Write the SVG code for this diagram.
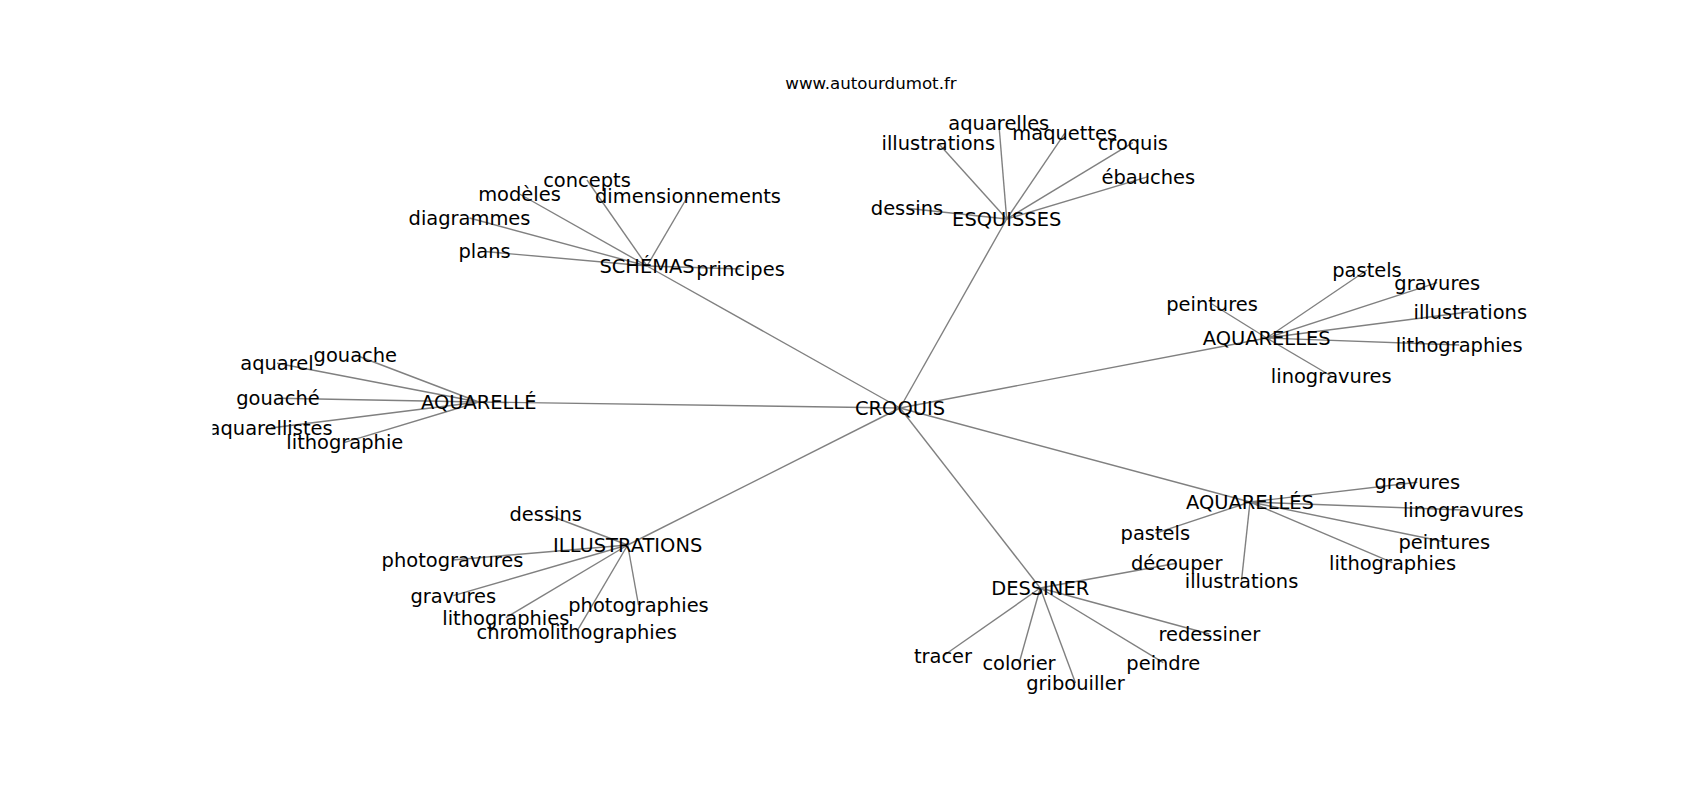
<svg xmlns="http://www.w3.org/2000/svg" width="1700" height="800" viewBox="0 0 1700 800">
<defs>
<style>
text{font-family:"DejaVu Sans",sans-serif;fill:#000;}
.l{font-size:19.44px;text-anchor:middle;}
.t{font-size:16.67px;text-anchor:middle;}
.e line{stroke:#808080;stroke-width:1.4;}
</style>
<clipPath id="ax"><rect x="212.5" y="96" width="1317.5" height="616"/></clipPath>
</defs>
<rect width="1700" height="800" fill="#fff"/>
<text class="t" x="871" y="88.5">www.autourdumot.fr</text>
<g clip-path="url(#ax)">
<g id="connectors" class="e">
<line x1="900" y1="408" x2="647" y2="266"/>
<line x1="900" y1="408" x2="1006.7" y2="219"/>
<line x1="900" y1="408" x2="1266.7" y2="338"/>
<line x1="900" y1="408" x2="478.7" y2="402"/>
<line x1="900" y1="408" x2="627.7" y2="545"/>
<line x1="900" y1="408" x2="1040.2" y2="588"/>
<line x1="900" y1="408" x2="1250" y2="502"/>
<line x1="647" y1="266" x2="484.6" y2="251.5"/>
<line x1="647" y1="266" x2="469.5" y2="218"/>
<line x1="647" y1="266" x2="519.5" y2="194"/>
<line x1="647" y1="266" x2="587" y2="180"/>
<line x1="647" y1="266" x2="688" y2="196"/>
<line x1="647" y1="266" x2="740.5" y2="269"/>
<line x1="1006.7" y1="219" x2="907" y2="208.3"/>
<line x1="1006.7" y1="219" x2="938.3" y2="143.3"/>
<line x1="1006.7" y1="219" x2="998.8" y2="123.3"/>
<line x1="1006.7" y1="219" x2="1064.7" y2="133.3"/>
<line x1="1006.7" y1="219" x2="1132.8" y2="142.7"/>
<line x1="1006.7" y1="219" x2="1148.3" y2="176.7"/>
<line x1="1266.7" y1="338" x2="1212" y2="304"/>
<line x1="1266.7" y1="338" x2="1367" y2="270"/>
<line x1="1266.7" y1="338" x2="1437.2" y2="282.7"/>
<line x1="1266.7" y1="338" x2="1470.3" y2="311.7"/>
<line x1="1266.7" y1="338" x2="1459.2" y2="345"/>
<line x1="1266.7" y1="338" x2="1331.2" y2="376"/>
<line x1="478.7" y1="402" x2="277" y2="363.3"/>
<line x1="478.7" y1="402" x2="355.3" y2="355"/>
<line x1="478.7" y1="402" x2="278" y2="398.3"/>
<line x1="478.7" y1="402" x2="270.6" y2="428"/>
<line x1="478.7" y1="402" x2="344.8" y2="442.4"/>
<line x1="627.7" y1="545" x2="545.7" y2="514"/>
<line x1="627.7" y1="545" x2="452.5" y2="560"/>
<line x1="627.7" y1="545" x2="453.3" y2="595.7"/>
<line x1="627.7" y1="545" x2="505.8" y2="617.7"/>
<line x1="627.7" y1="545" x2="576.7" y2="631.7"/>
<line x1="627.7" y1="545" x2="638.5" y2="605"/>
<line x1="1040.2" y1="588" x2="943" y2="656"/>
<line x1="1040.2" y1="588" x2="1019" y2="663.5"/>
<line x1="1040.2" y1="588" x2="1075.5" y2="683"/>
<line x1="1040.2" y1="588" x2="1163.3" y2="662.7"/>
<line x1="1040.2" y1="588" x2="1209.3" y2="634"/>
<line x1="1040.2" y1="588" x2="1176.7" y2="563.3"/>
<line x1="1250" y1="502" x2="1417.3" y2="482.3"/>
<line x1="1250" y1="502" x2="1463.3" y2="510"/>
<line x1="1250" y1="502" x2="1155.3" y2="533.3"/>
<line x1="1250" y1="502" x2="1241.5" y2="580.7"/>
<line x1="1250" y1="502" x2="1392.5" y2="562.7"/>
<line x1="1250" y1="502" x2="1444.3" y2="541.7"/>
</g>
<g id="n-croquis" transform="translate(0,1.5)"><text class="l" x="900" y="413.4">CROQUIS</text></g>
<g id="n-schemas" transform="translate(0,1.5)">
<text class="l" x="647" y="271.4">SCHÉMAS</text>
<text class="l" x="484.6" y="256.9">plans</text>
<text class="l" x="469.5" y="223.4">diagrammes</text>
<text class="l" x="519.5" y="199.4">modèles</text>
<text class="l" x="587" y="185.4">concepts</text>
<text class="l" x="688" y="201.4">dimensionnements</text>
<text class="l" x="740.5" y="274.4">principes</text>
</g>
<g id="n-esquisses" transform="translate(0,1.5)">
<text class="l" x="1006.7" y="224.4">ESQUISSES</text>
<text class="l" x="907" y="213.7">dessins</text>
<text class="l" x="938.3" y="148.7">illustrations</text>
<text class="l" x="998.8" y="128.7">aquarelles</text>
<text class="l" x="1064.7" y="138.7">maquettes</text>
<text class="l" x="1132.8" y="148.1">croquis</text>
<text class="l" x="1148.3" y="182.1">ébauches</text>
</g>
<g id="n-aquarelles" transform="translate(0,1.5)">
<text class="l" x="1266.7" y="343.4">AQUARELLES</text>
<text class="l" x="1212" y="309.4">peintures</text>
<text class="l" x="1367" y="275.4">pastels</text>
<text class="l" x="1437.2" y="288.1">gravures</text>
<text class="l" x="1470.3" y="317.1">illustrations</text>
<text class="l" x="1459.2" y="350.4">lithographies</text>
<text class="l" x="1331.2" y="381.4">linogravures</text>
</g>
<g id="n-aquarelle" transform="translate(0,1.5)">
<text class="l" x="478.7" y="407.4">AQUARELLÉ</text>
<text class="l" x="277" y="368.7">aquarel</text>
<text class="l" x="355.3" y="360.4">gouache</text>
<text class="l" x="278" y="403.7">gouaché</text>
<text class="l" x="270.6" y="433.4">aquarellistes</text>
<text class="l" x="344.8" y="447.8">lithographie</text>
</g>
<g id="n-illustrations" transform="translate(0,1.5)">
<text class="l" x="627.7" y="550.4">ILLUSTRATIONS</text>
<text class="l" x="545.7" y="519.4">dessins</text>
<text class="l" x="452.5" y="565.4">photogravures</text>
<text class="l" x="453.3" y="601.1">gravures</text>
<text class="l" x="505.8" y="623.1">lithographies</text>
<text class="l" x="576.7" y="637.1">chromolithographies</text>
<text class="l" x="638.5" y="610.4">photographies</text>
</g>
<g id="n-dessiner" transform="translate(0,1.5)">
<text class="l" x="1040.2" y="593.4">DESSINER</text>
<text class="l" x="943" y="661.4">tracer</text>
<text class="l" x="1019" y="668.9">colorier</text>
<text class="l" x="1075.5" y="688.4">gribouiller</text>
<text class="l" x="1163.3" y="668.1">peindre</text>
<text class="l" x="1209.3" y="639.4">redessiner</text>
<text class="l" x="1176.7" y="568.7">découper</text>
</g>
<g id="n-aquarelles2" transform="translate(0,1.5)">
<text class="l" x="1250" y="507.4">AQUARELLÉS</text>
<text class="l" x="1417.3" y="487.7">gravures</text>
<text class="l" x="1463.3" y="515.4">linogravures</text>
<text class="l" x="1155.3" y="538.7">pastels</text>
<text class="l" x="1241.5" y="586.1">illustrations</text>
<text class="l" x="1392.5" y="568.1">lithographies</text>
<text class="l" x="1444.3" y="547.1">peintures</text>
</g>
</g>
</svg>
